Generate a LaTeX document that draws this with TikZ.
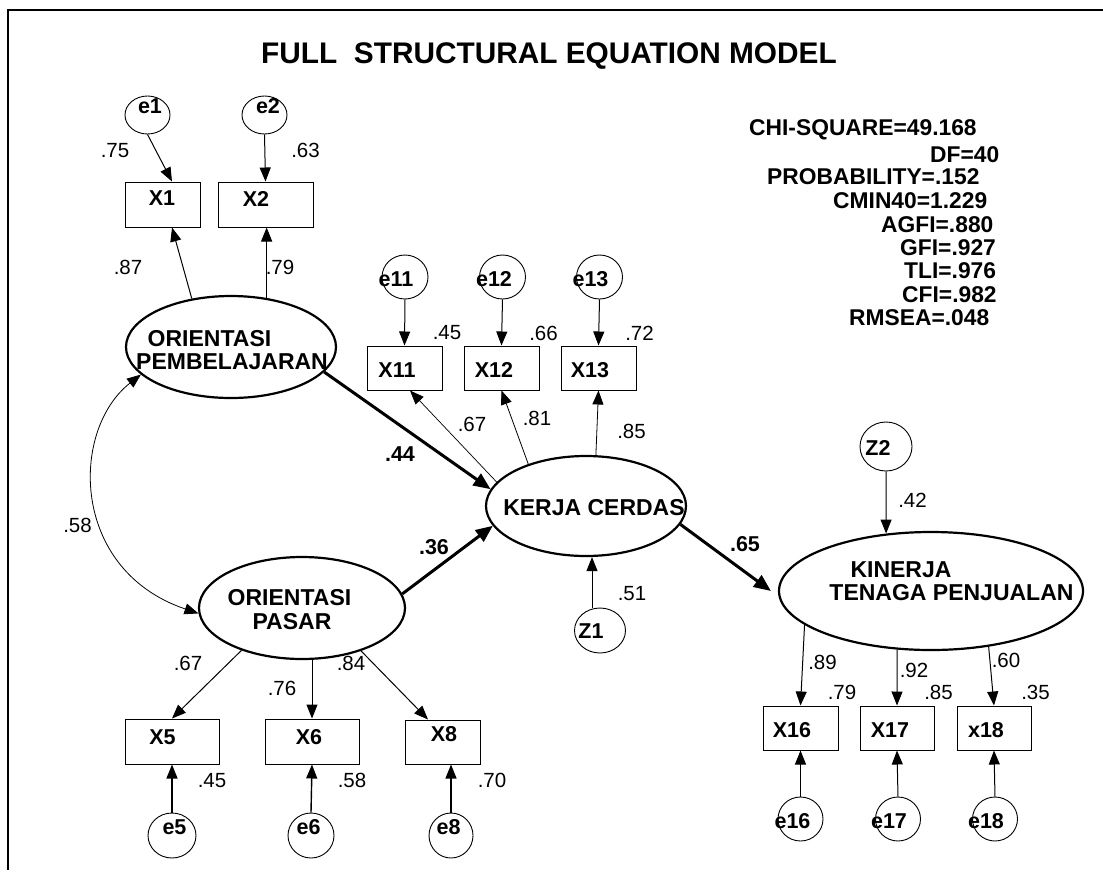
\documentclass[tikz,border=0pt]{standalone}
\usepackage{fontspec}
\setmainfont{Liberation Sans}
\usetikzlibrary{arrows.meta,shapes.geometric}
\begin{document}
\begin{tikzpicture}[x=1pt,y=-1pt,
  lbl/.style={inner sep=0pt,font=\fontsize{20.5}{24}\selectfont},
  blbl/.style={inner sep=0pt,font=\fontsize{21.5}{25}\selectfont\bfseries},
  nt/.style={inner sep=0pt,font=\fontsize{21.5}{25}\selectfont\bfseries},
  lt/.style={inner sep=0pt,font=\fontsize{23}{27}\selectfont\bfseries},
  fit/.style={inner sep=0pt,anchor=west,font=\fontsize{22.8}{27}\selectfont\bfseries},
  box/.style={draw,rectangle,inner sep=0pt,line width=1pt},
  circ/.style={draw,ellipse,inner sep=0pt,line width=0.9pt},
  lat/.style={draw,ellipse,inner sep=0pt,line width=2.2pt},
  arr/.style={line width=1pt,-{Triangle[length=14pt,width=11pt]}},
  tarr/.style={line width=3pt,-{Triangle[length=17pt,width=14pt]}},
  cov/.style={line width=0.8pt,{Triangle[length=14pt,width=11pt]}-{Triangle[length=14pt,width=11pt]}}
]
\path[use as bounding box] (0,0) rectangle (1103,871);
% frame
\draw[line width=2pt] (8,870) -- (8,10) -- (1103,10);
% title
\node[inner sep=0pt,font=\fontsize{29.8}{34}\selectfont\bfseries] (title) at (549,56) {FULL\ \ STRUCTURAL EQUATION MODEL};
% fit statistics
\node[fit] (f1) at (749,130) {CHI-SQUARE=49.168};
\node[fit] (f2) at (930,154.5) {DF=40};
\node[fit] (f3) at (767,177) {PROBABILITY=.152};
\node[fit] (f4) at (833,201) {CMIN40=1.229};
\node[fit] (f5) at (881,225) {AGFI=.880};
\node[fit] (f6) at (900,248) {GFI=.927};
\node[fit] (f7) at (904,271) {TLI=.976};
\node[fit] (f8) at (902,295) {CFI=.982};
\node[fit] (f9) at (849,318) {RMSEA=.048};

% latent variables
\node[lat,minimum width=210pt,minimum height=102pt] (OPemb) at (231,347) {};
\node[lt] (OPembA) at (209.5,338.5) {ORIENTASI};
\node[lt] (OPembB) at (232,361.5) {PEMBELAJARAN};
\node[lat,minimum width=206pt,minimum height=102pt] (OPas) at (302,608) {};
\node[lt] (OPasA) at (289.5,598) {ORIENTASI};
\node[lt] (OPasB) at (292,621.5) {PASAR};
\node[lat,minimum width=200pt,minimum height=100pt] (KC) at (586,506) {};
\node[lt] (KCt) at (594,508) {KERJA CERDAS};
\node[lat,minimum width=304pt,minimum height=118pt] (KTP) at (931,591) {};
\node[lt] (KTPA) at (901,569.5) {KINERJA};
\node[lt] (KTPB) at (951.5,592.5) {TENAGA PENJUALAN};

% observed boxes
\node[box,minimum width=75pt,minimum height=45pt] (X1) at (163,204.5) {};
\node[nt] (X1t) at (162,198.5) {X1};
\node[box,minimum width=95pt,minimum height=45pt] (X2) at (265.5,204.5) {};
\node[nt] (X2t) at (256,198.5) {X2};
\node[box,minimum width=75pt,minimum height=44pt] (X11) at (404.5,368) {};
\node[nt] (X11t) at (397,370) {X11};
\node[box,minimum width=75pt,minimum height=44pt] (X12) at (501.5,368) {};
\node[nt] (X12t) at (494,370) {X12};
\node[box,minimum width=75pt,minimum height=44pt] (X13) at (598.5,368) {};
\node[nt] (X13t) at (590,370) {X13};
\node[box,minimum width=94pt,minimum height=45pt] (X5) at (172,741.5) {};
\node[nt] (X5t) at (162.5,737) {X5};
\node[box,minimum width=94pt,minimum height=45pt] (X6) at (312,741.5) {};
\node[nt] (X6t) at (309,737) {X6};
\node[box,minimum width=75pt,minimum height=44pt] (X8) at (442.5,742) {};
\node[nt] (X8t) at (444,734) {X8};
\node[box,minimum width=75pt,minimum height=44pt] (X16) at (800.5,728) {};
\node[nt] (X16t) at (792,730) {X16};
\node[box,minimum width=74pt,minimum height=44pt] (X17) at (897,728) {};
\node[nt] (X17t) at (890,730) {X17};
\node[box,minimum width=74pt,minimum height=44pt] (X18) at (994,728) {};
\node[nt] (X18t) at (986,730) {x18};

% error / disturbance circles
\node[circ,minimum width=45pt,minimum height=38pt] (e1) at (147.5,115) {};
\node[nt] (e1t) at (150,106) {e1};
\node[circ,minimum width=45pt,minimum height=38pt] (e2) at (264.5,115) {};
\node[nt] (e2t) at (268,106) {e2};
\node[circ,minimum width=46pt,minimum height=44pt] (e11) at (405,277) {};
\node[nt] (e11t) at (396,279) {e11};
\node[circ,minimum width=46pt,minimum height=44pt] (e12) at (502.5,277) {};
\node[nt] (e12t) at (494,279) {e12};
\node[circ,minimum width=46pt,minimum height=44pt] (e13) at (599.5,277) {};
\node[nt] (e13t) at (590.5,279) {e13};
\node[circ,minimum width=52pt,minimum height=49pt] (Z2) at (886,446.5) {};
\node[nt] (Z2t) at (878,448) {Z2};
\node[circ,minimum width=51pt,minimum height=45pt] (Z1) at (600,630.5) {};
\node[nt] (Z1t) at (591,631) {Z1};
\node[circ,minimum width=45pt,minimum height=44pt] (e16) at (800.5,819) {};
\node[nt] (e16t) at (792.5,821) {e16};
\node[circ,minimum width=45pt,minimum height=44pt] (e17) at (898,819) {};
\node[nt] (e17t) at (889,821) {e17};
\node[circ,minimum width=45pt,minimum height=44pt] (e18) at (995,819) {};
\node[nt] (e18t) at (986,821) {e18};
\node[circ,minimum width=48pt,minimum height=45pt] (e5) at (172,835.5) {};
\node[nt] (e5t) at (174.5,827) {e5};
\node[circ,minimum width=46pt,minimum height=45pt] (e6) at (311,835.5) {};
\node[nt] (e6t) at (308.5,827) {e6};
\node[circ,minimum width=44pt,minimum height=45pt] (e8) at (451,835.5) {};
\node[nt] (e8t) at (448.5,827) {e8};

% connectors: measurement, top-left
\draw[arr] (e1.south) -- ([xshift=9pt]X1.north);
\draw[arr] (e2.south) -- (X2.north);
\draw[arr] (OPemb.129) -- ([xshift=9pt]X1.south);
\draw[arr] (OPemb.54) -- (OPemb.54 |- X2.south);
% KERJA CERDAS indicators
\draw[arr] (e11.south) -- (X11.north);
\draw[arr] (e12.south) -- (X12.north);
\draw[arr] (e13.south) -- (X13.north);
\draw[arr,line width=0.7pt] (KC.165.8) -- ([xshift=5.5pt]X11.south);
\draw[arr,line width=0.8pt] (KC.144) -- (X12.south);
\draw[arr,line width=0.8pt] (KC.79.6) -- (X13.south);
% ORIENTASI PASAR indicators
\draw[arr] (OPas.215) -- (X5.north);
\draw[arr] ([xshift=10pt]OPas.south) -- (X6.north);
\draw[arr] (OPas.-36.7) -- ([xshift=-14.5pt]X8.north);
\draw[arr,line width=1.4pt] (e5.north) -- (X5.south);
\draw[arr,line width=1.4pt] (e6.north) -- (X6.south);
\draw[arr,line width=1.2pt] (e8.north) -- (e8.north |- X8.south);
% KINERJA indicators
\draw[arr] (KTP.195.7) -- (X16.north);
\draw[arr] (KTP.240) -- (X17.north);
\draw[arr] (KTP.-44) -- (X18.north);
\draw[arr] (e16.north) -- (X16.south);
\draw[arr] (e17.north) -- (X17.south);
\draw[arr] (e18.north) -- (X18.south);
% disturbances
\draw[arr] ([xshift=-8pt]Z1.north) -- ([xshift=6pt]KC.south);
\draw[arr] (Z2.south) -- (KTP.128);
% structural paths
\draw[tarr] (OPemb.-15) -- (KC.170);
\draw[tarr] (OPas.8.4) -- (KC.192.6);
\draw[tarr] (KC.-11.8) -- ([xshift=-7pt]KTP.west);
% covariance
\draw[cov] (OPas.183) .. controls (70,570) and (70,430) .. (OPemb.197.5);

% coefficient labels
\node[lbl] (l75) at (115,150.5) {.75};
\node[lbl] (l63) at (305.5,150) {.63};
\node[lbl] (l87) at (128,267) {.87};
\node[lbl] (l79) at (280,267) {.79};
\node[lbl] (l45a) at (447,333) {.45};
\node[lbl] (l66) at (543.5,333) {.66};
\node[lbl] (l72) at (639.5,333) {.72};
\node[lbl] (l67a) at (472,424) {.67};
\node[lbl] (l81) at (537,418) {.81};
\node[lbl] (l85a) at (631.5,431) {.85};
\node[blbl] (l44) at (400,454) {.44};
\node[blbl] (l36) at (434,547.5) {.36};
\node[blbl] (l65) at (745,544) {.65};
\node[lbl] (l58a) at (77.5,525) {.58};
\node[lbl] (l51) at (632,593.5) {.51};
\node[lbl] (l42) at (912.5,500.5) {.42};
\node[lbl] (l67b) at (188,663.5) {.67};
\node[lbl] (l76) at (282,688) {.76};
\node[lbl] (l84) at (351,663) {.84};
\node[lbl] (l45b) at (212,780.5) {.45};
\node[lbl] (l58b) at (352,780) {.58};
\node[lbl] (l70) at (492,780) {.70};
\node[lbl] (l89) at (822.5,662.5) {.89};
\node[lbl] (l92) at (914,670) {.92};
\node[lbl] (l60) at (1006,660.5) {.60};
\node[lbl] (l79b) at (842,692.5) {.79};
\node[lbl] (l85b) at (938.5,692) {.85};
\node[lbl] (l35) at (1035.5,692) {.35};
\end{tikzpicture}
\end{document}
